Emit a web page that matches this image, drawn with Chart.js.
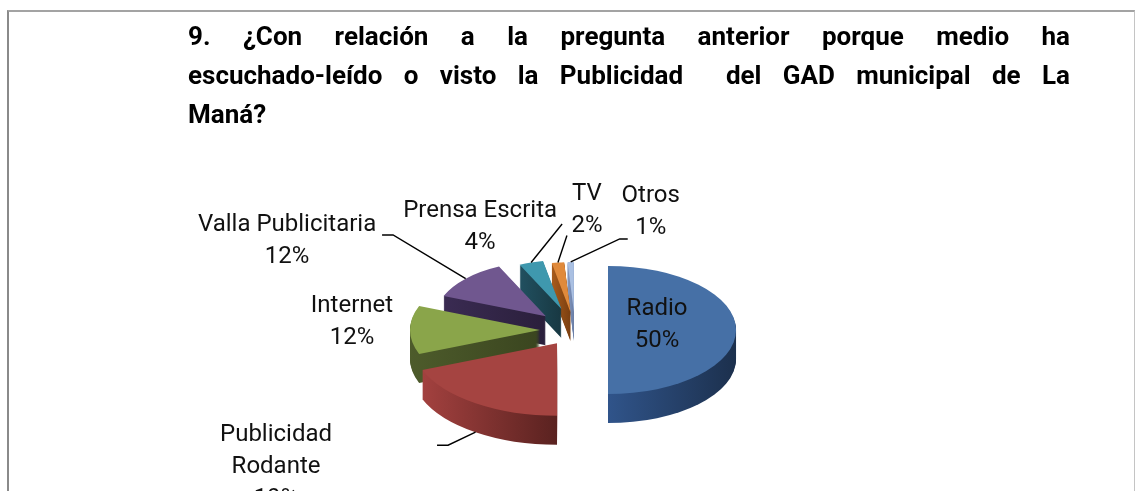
<!DOCTYPE html>
<html><head><meta charset="utf-8">
<script src="https://cdn.jsdelivr.net/npm/chart.js@4.4.0/dist/chart.umd.min.js"></script>
<style>
html,body{margin:0;padding:0;background:#fff;width:1135px;height:491px;overflow:hidden;}
#frame{position:absolute;left:7px;top:10px;width:1125px;height:520px;border-top:2px solid #a3a3a3;border-left:2px solid #8a8a8a;border-right:1px solid #c4c4c4;}
#title{position:absolute;left:188px;top:17px;width:882px;font-family:Roboto,'Noto Sans',sans-serif;font-weight:bold;font-size:26px;line-height:39px;color:#000;}
#title div{text-align:justify;text-align-last:justify;}
#title div.last{text-align-last:left;}
canvas{position:absolute;left:0;top:0;}
</style></head><body>
<div id="frame"></div>
<canvas id="c" width="1135" height="491"></canvas>
<div id="title"><div>9. ¿Con relación a la pregunta anterior porque medio ha</div><div>escuchado-leído o visto la Publicidad&nbsp; del GAD municipal de La</div><div class="last">Maná?</div></div>
<script>
// ---- data ----
const categories = ['Radio','Publicidad Rodante','Internet','Valla Publicitaria','Prensa Escrita','TV','Otros'];
const percentages = [50, 19, 12, 12, 4, 2, 1];
const nameLines = [['Radio'],['Publicidad','Rodante'],['Internet'],['Valla Publicitaria'],['Prensa Escrita'],['TV'],['Otros']];

// ---- style ----
const topColors = ['#4670a6','#a54441','#8aa54a','#70578f','#3f98ae','#e08a3c','#aac0e2'];
const sideColors = [['#30548a','#1c304d'],['#a3413f','#5a2220'],['#4d5b2b','#3a451f'],['#3a2b52','#2a1f3b'],['#215060','#183842'],['#a85b1c','#7a3f10'],['#8498c0','#6a7ea6']];
const explode = [33, 32, 35, 40, 44, 36, 36];
const sizeFactor = [0.985, 1.115, 1.0, 0.846, 0.754, 0.77, 0.77];
const drawOrder = [6, 5, 4, 3, 2, 1, 0];
const K = 0.5, DEPTH = 29;
const labelShift = [[-79,-5],[-199.5,64],[-58,-8],[-178.6,-37.7],[-51,-35.5],[29,-52],[80,-50]];
const leaderPts = [null, [[172,-22],[161,-22]], null, [[106,-6],[95,-6]], [[82,-3]], [[-20,25]], [[-31,27],[-23,27]]];

function geom(arc, i){
  const p = arc.getProps(['x','y','startAngle','endAngle','outerRadius'], true);
  const mid = (p.startAngle + p.endAngle)/2;
  const ex = Math.cos(mid)*explode[i], ey = Math.sin(mid)*explode[i];
  const sR = p.outerRadius*sizeFactor[i];
  const apex = {x: p.x + ex, y: p.y + ey*K};
  const rim = {x: apex.x + Math.cos(mid)*sR, y: apex.y + Math.sin(mid)*sR*K};
  return {p, mid, ex, ey, sR, apex, rim};
}

const pie3d = {
  id: 'pie3d',
  beforeDatasetsDraw(chart){
    const ctx = chart.ctx;
    const arcs = chart.getDatasetMeta(0).data;
    drawOrder.forEach(i => {
      const arc = arcs[i];
      const g = geom(arc, i);
      const p = g.p;
      const apply = (dy) => {
        ctx.translate(0, dy);
        ctx.translate(p.x, p.y);
        ctx.scale(1, K);
        ctx.translate(g.ex, g.ey);
        ctx.scale(sizeFactor[i], sizeFactor[i]);
        ctx.translate(-p.x, -p.y);
      };
      let mn = 0, mx = 0;
      for (let t = 0; t <= 40; t++) {
        const a = p.startAngle + (p.endAngle - p.startAngle)*t/40;
        const c = Math.cos(a);
        mn = Math.min(mn, c); mx = Math.max(mx, c);
      }
      const grad = ctx.createLinearGradient(p.x + mn*p.outerRadius, 0, p.x + mx*p.outerRadius, 0);
      grad.addColorStop(0, sideColors[i][0]);
      grad.addColorStop(1, sideColors[i][1]);
      const orig = arc.options;
      arc.options = Object.assign({}, orig, {backgroundColor: grad, borderWidth: 0, offset: 0});
      for (let d = DEPTH; d >= 1; d--) {
        ctx.save(); apply(d); arc.draw(ctx); ctx.restore();
      }
      arc.options = Object.assign({}, orig, {borderWidth: 0, offset: 0});
      ctx.save(); apply(0); arc.draw(ctx); ctx.restore();
      arc.options = orig;
    });
    return false;
  },
  afterDraw(chart){
    const ctx = chart.ctx;
    const arcs = chart.getDatasetMeta(0).data;
    ctx.save();
    ctx.font = '24px Roboto, "Noto Sans", sans-serif';
    ctx.textAlign = 'center';
    ctx.textBaseline = 'middle';
    ctx.fillStyle = '#111';
    ctx.strokeStyle = '#000';
    ctx.lineWidth = 1.4;
    arcs.forEach((arc, i) => {
      const g = geom(arc, i);
      const cx = g.rim.x + labelShift[i][0];
      const cy = g.rim.y + labelShift[i][1];
      const lines = nameLines[i].concat([percentages[i] + '%']);
      lines.forEach((t, j) => {
        ctx.fillText(t, cx, cy + (j - (lines.length-1)/2)*32);
      });
      if (leaderPts[i]) {
        const front = Math.sin(g.mid) > 0.3;
        ctx.beginPath();
        ctx.moveTo(g.rim.x, g.rim.y + (front ? DEPTH : 0));
        leaderPts[i].forEach(q => ctx.lineTo(cx + q[0], cy + q[1]));
        ctx.stroke();
      }
    });
    ctx.restore();
  }
};

new Chart(document.getElementById('c').getContext('2d'), {
  type: 'pie',
  data: {
    labels: categories,
    datasets: [{data: percentages, backgroundColor: topColors, borderWidth: 0, radius: 130}]
  },
  options: {
    responsive: false,
    animation: false,
    devicePixelRatio: 1,
    radius: 130,
    layout: {padding: {left: 15, right: 0, top: 169, bottom: 0}},
    plugins: {legend: {display: false}, tooltip: {enabled: false}, title: {display: false}}
  },
  plugins: [pie3d]
});
</script>
</body></html>
